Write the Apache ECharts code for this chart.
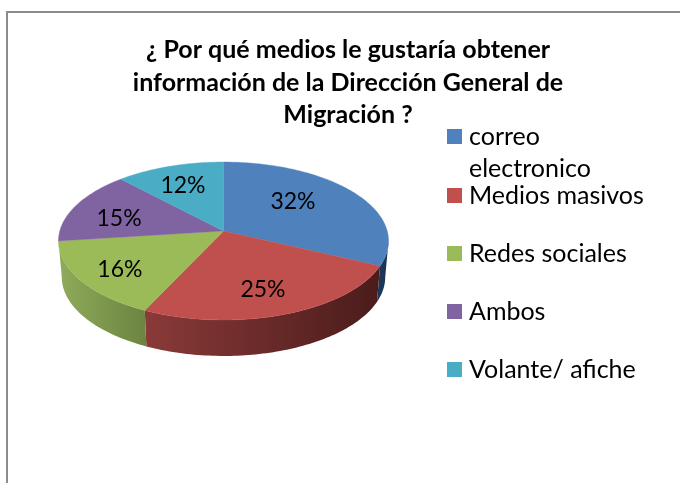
<!DOCTYPE html>
<html>
<head>
<meta charset="utf-8">
<style>
  html, body { margin: 0; background: #fff; }
  #main { width: 680px; height: 483px; }
</style>
</head>
<body>
<div id="main"></div>
<script src="https://cdn.jsdelivr.net/npm/echarts@6/dist/echarts.min.js"></script>
<script>
const titleText = '¿ Por qué medios le gustaría obtener\ninformación de la Dirección General de\nMigración ?';
const categories = ['correo electronico', 'Medios masivos', 'Redes sociales', 'Ambos', 'Volante/ afiche'];
const values = [32, 25, 16, 15, 12];

const topColors = ['#4f81bd', '#c0504d', '#9bbb59', '#8064a2', '#4bacc6'];
// side wall gradient, left to right
const wallColors = [
  ['#1f3a5e', '#1b3250'],
  ['#8a3a38', '#4a1c1b'],
  ['#8fab5a', '#6c8440'],
  ['#6a5387', '#5a4673'],
  ['#3f93a9', '#347c8f']
];
// label placement inside the slice: turn from mid angle (deg), radius fraction
const labelTurn = [-9.9, 1.9, -1.7, -5.1, -1.1];
const labelRadius = [0.603, 0.717, 0.753, 0.674, 0.694];

const fontName = 'Lato, Carlito, "Open Sans", sans-serif';
const total = values.reduce((a, b) => a + b, 0);

// pie tilt
const cx = 223.5, cy = 231;
const a = 163.7, b = 77.7, k = 0.1266;
const depth = 36, bottomScale = 0.98;

function project(angle, r, down) {
  const u = Math.sin(angle) * r;
  const v = -Math.cos(angle) * r;
  const w = 1 - k * v;
  const x = a * u / w;
  const y = b * v / w;
  return down ? [cx + x * bottomScale, cy + y + depth] : [cx + x, cy + y];
}

function arcPoints(from, to, down) {
  const steps = Math.max(2, Math.ceil((to - from) / 0.02));
  const pts = [];
  for (let i = 0; i <= steps; i++) {
    pts.push(project(from + (to - from) * i / steps, 1, down));
  }
  return pts;
}

// front part of the rim, where the wall shows
const frontStart = Math.acos(-k);
const frontEnd = 2 * Math.PI - frontStart;

function renderSlice(params, api) {
  const idx = params.seriesIndex;
  let before = 0;
  for (let i = 0; i < idx; i++) before += values[i];
  const start = before / total * 2 * Math.PI;
  const end = (before + api.value(0)) / total * 2 * Math.PI;
  const children = [];

  const wallFrom = Math.max(start, frontStart);
  const wallTo = Math.min(end, frontEnd);
  if (wallTo > wallFrom) {
    const upper = arcPoints(wallFrom, wallTo, false);
    const lower = arcPoints(wallFrom, wallTo, true).reverse();
    const fill = new echarts.graphic.LinearGradient(0, 0, 1, 0, [
      { offset: 0, color: wallColors[idx][0] },
      { offset: 1, color: wallColors[idx][1] }
    ]);
    children.push({
      type: 'polygon',
      shape: { points: upper.concat(lower) },
      style: { fill: fill }
    });
  }

  children.push({
    type: 'polygon',
    shape: { points: [[cx, cy]].concat(arcPoints(start, end, false)) },
    style: { fill: topColors[idx], stroke: topColors[idx], lineWidth: 0.4 }
  });

  const mid = (start + end) / 2 + labelTurn[idx] * Math.PI / 180;
  const pos = project(mid, labelRadius[idx], false);
  children.push({
    type: 'text',
    z2: 10,
    style: {
      text: api.value(0) + '%',
      x: pos[0],
      y: pos[1] + 1,
      align: 'center',
      verticalAlign: 'middle',
      fontFamily: fontName,
      fontSize: 23,
      fill: '#000'
    }
  });
  return { type: 'group', children: children };
}

const markerMiddles = [136.5, 195.5, 253.5, 311.5, 369.5];
const legendLine = 32;

const option = {
  backgroundColor: '#fff',
  animation: false,
  title: {
    text: titleText,
    left: 348,
    top: 34,
    padding: 0,
    textAlign: 'center',
    textStyle: {
      fontFamily: fontName,
      fontSize: 25,
      fontWeight: 'bold',
      lineHeight: 32.5,
      color: '#000'
    }
  },
  // one legend per entry, the first one wraps over the next
  legend: categories.map((name, i) => ({
    data: [name],
    left: 447,
    top: markerMiddles[i] - (i === 0 ? 1.5 : 0.5) * legendLine,
    padding: 0,
    icon: 'rect',
    itemWidth: 15,
    itemHeight: 15,
    selectedMode: false,
    formatter: n => (n === categories[0] ? '\ncorreo\nelectronico' : n),
    textStyle: {
      fontFamily: fontName,
      fontSize: 25,
      lineHeight: legendLine,
      color: '#000',
      padding: [0, 0, 0, 2]
    }
  })),
  graphic: [{
    type: 'polyline',
    silent: true,
    shape: { points: [[7, 483], [7, 12], [680, 12]] },
    style: { stroke: '#8c8c8c', lineWidth: 2, fill: null }
  }],
  series: categories.map((name, i) => ({
    type: 'custom',
    name: name,
    coordinateSystem: 'none',
    itemStyle: { color: topColors[i] },
    data: [[values[i]]],
    renderItem: renderSlice
  }))
};

const myChart = echarts.init(document.getElementById('main'));
myChart.setOption(option);
</script>
</body>
</html>
